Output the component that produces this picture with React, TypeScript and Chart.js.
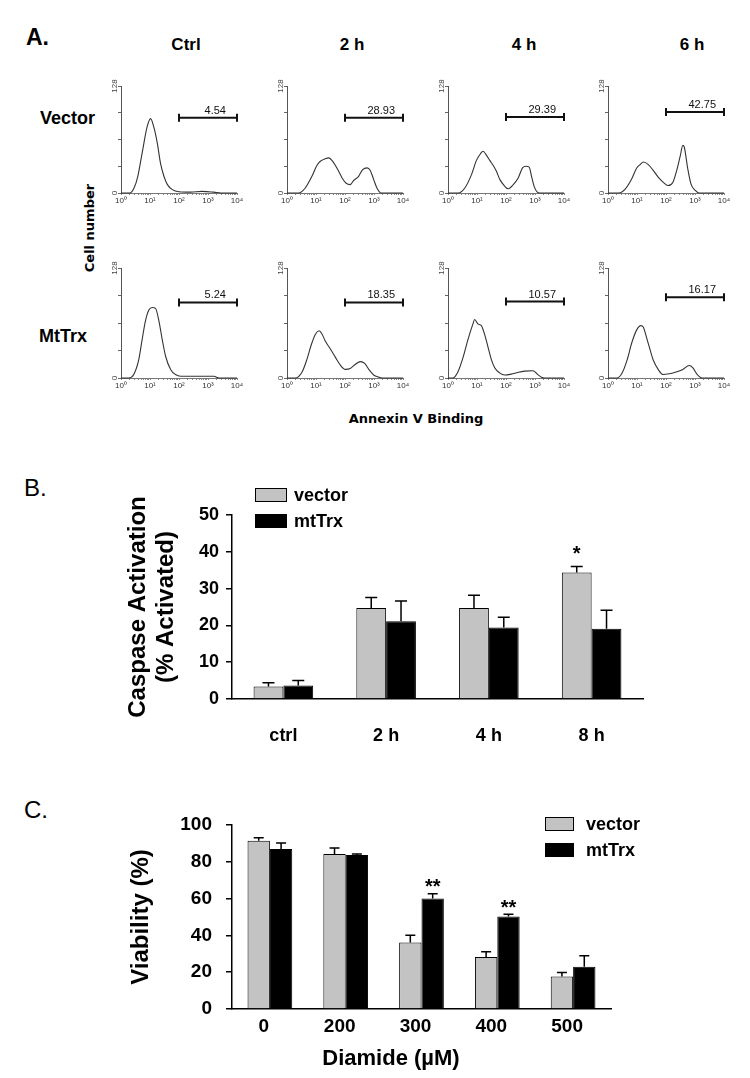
import React, { useEffect, useRef } from 'react';
import { Chart, registerables } from 'chart.js';

Chart.register(...registerables);

// ---------------- Panel A: Annexin V histograms ([log10 decade, cell count]) ----------------
const columnHeaders = ['Ctrl', '2 h', '4 h', '6 h'];
const rowLabels = ['Vector', 'MtTrx'];
const decadeLabels = ['10⁰', '10¹', '10²', '10³', '10⁴'];
const histYMax = 128;
const histYTicks = [0, 32, 64, 96, 128];

const vectorCtrl = [[0, 0], [0.3, 0], [0.45, 6], [0.58, 20], [0.73, 48], [0.9, 79], [1.02, 89], [1.13, 79], [1.25, 60], [1.36, 36], [1.48, 20], [1.6, 10], [1.77, 4], [2.0, 1.5], [2.4, 1], [2.8, 2], [3.2, 1], [3.45, 0], [4, 0]];
const vector2h = [[0, 0], [0.4, 0], [0.63, 6], [0.86, 20], [1.03, 33], [1.15, 38], [1.32, 41], [1.44, 42], [1.55, 39], [1.67, 33], [1.78, 26], [1.9, 18], [2.03, 12], [2.18, 10], [2.3, 15], [2.47, 20], [2.61, 28], [2.76, 30], [2.87, 27], [2.99, 16], [3.1, 6], [3.25, 0], [4, 0]];
const vector4h = [[0, 0], [0.35, 0], [0.58, 6], [0.81, 22], [0.98, 39], [1.12, 47], [1.21, 50], [1.33, 45], [1.44, 39], [1.56, 33], [1.67, 26], [1.79, 16], [1.96, 8], [2.07, 5], [2.25, 10], [2.42, 18], [2.57, 30], [2.68, 32], [2.8, 31], [2.88, 20], [2.97, 8], [3.08, 1], [3.17, 0], [4, 0]];
const vector6h = [[0, 0], [0.37, 0], [0.6, 5], [0.82, 17], [0.99, 30], [1.11, 34], [1.22, 37], [1.39, 34], [1.56, 27], [1.73, 19], [1.9, 13], [2.07, 9], [2.24, 13], [2.37, 27], [2.49, 44], [2.58, 57], [2.63, 55], [2.75, 29], [2.86, 11], [3.01, 3], [3.14, 0], [4, 0]];
const mtTrxCtrl = [[0, 0], [0.27, 0], [0.44, 4], [0.61, 21], [0.73, 45], [0.84, 66], [0.96, 79], [1.08, 82], [1.19, 81], [1.31, 66], [1.42, 45], [1.54, 25], [1.71, 10], [1.88, 4], [2.06, 2], [2.4, 2], [2.75, 2], [3.2, 2], [3.39, 0], [4, 0]];
const mtTrx2h = [[0, 0], [0.29, 0], [0.52, 7], [0.69, 22], [0.84, 39], [0.98, 51], [1.11, 55], [1.21, 51], [1.32, 43], [1.49, 34], [1.67, 24], [1.84, 15], [2.01, 10], [2.18, 11], [2.36, 16], [2.53, 19], [2.68, 17], [2.82, 10], [2.99, 3.5], [3.16, 1], [3.28, 0], [4, 0]];
const mtTrx4h = [[0, 0], [0.17, 0], [0.34, 7], [0.52, 24], [0.69, 45], [0.86, 63], [0.92, 68], [1.03, 63], [1.15, 61], [1.26, 51], [1.38, 36], [1.49, 22], [1.61, 12], [1.78, 6], [1.95, 3.5], [2.18, 4.5], [2.41, 6.5], [2.64, 8], [2.93, 8.5], [3.08, 4.5], [3.22, 1], [3.33, 0], [4, 0]];
const mtTrx6h = [[0, 0], [0.32, 0], [0.49, 6], [0.66, 21], [0.82, 41], [0.99, 56], [1.13, 61], [1.22, 59], [1.33, 47], [1.45, 33], [1.56, 21], [1.73, 10], [1.9, 4], [2.12, 5], [2.35, 7], [2.58, 10], [2.8, 14.5], [2.92, 12], [3.08, 4], [3.25, 0], [4, 0]];

const gateRange = [100, 10000];
const vectorGatePct = ['4.54', '28.93', '29.39', '42.75'];
const mtTrxGatePct = ['5.24', '18.35', '10.57', '16.17'];
const vectorGateLevel = [90, 90, 91, 97];
const mtTrxGateLevel = [88, 88, 89, 94];

// ---------------- Panel B: caspase activation ----------------
const caspaseCategories = ['ctrl', '2 h', '4 h', '8 h'];
const caspaseVector = [3.4, 24.7, 24.7, 34.4];
const caspaseVectorErr = [1.0, 2.9, 3.5, 1.6];
const caspaseMtTrx = [3.7, 21.1, 19.4, 19.1];
const caspaseMtTrxErr = [1.3, 5.5, 2.8, 5.0];
const caspaseTicks = { min: 0, max: 50, step: 10 };

// ---------------- Panel C: viability ----------------
const diamideCategories = ['0', '200', '300', '400', '500'];
const viabilityVector = [91.5, 84.3, 36.2, 28.2, 17.7];
const viabilityVectorErr = [1.6, 3.2, 3.9, 2.9, 2.2];
const viabilityMtTrx = [87.0, 83.7, 60.0, 50.3, 23.0];
const viabilityMtTrxErr = [3.2, 0.6, 2.7, 1.2, 5.9];
const viabilityTicks = { min: 0, max: 100, step: 20 };

const seriesNames = ['vector', 'mtTrx'];

// ---------------- layout ----------------
const SANS = '"Liberation Sans", Arial, Helvetica, sans-serif';
const histLefts = [121, 287, 448, 608];
const histTops = [86, 268];
const histHeights = [107, 110];
const histWidth = 116;

const histMinorTicks: number[] = [];
for (let e = 0; e < 4; e++) for (let m = 1; m < 10; m++) histMinorTicks.push(m * Math.pow(10, e));
histMinorTicks.push(10000);

const histDecor = {
  id: 'histDecor',
  afterDraw(chart: any, _a: any, opts: any) {
    const { ctx } = chart;
    const x = chart.scales.x;
    const y = chart.scales.y;
    ctx.save();
    ctx.fillStyle = '#111';
    ctx.font = `11px ${SANS}`;
    ctx.textAlign = 'center';
    ctx.textBaseline = 'middle';
    ctx.fillText(opts.label, x.getPixelForValue(Math.pow(10, 3.25)), y.getPixelForValue(opts.level) - 7);
    ctx.font = `8px ${SANS}`;
    ctx.fillStyle = '#444';
    [0, histYMax].forEach((v) => {
      ctx.save();
      ctx.translate(x.left - 6, y.getPixelForValue(v));
      ctx.rotate(-Math.PI / 2);
      ctx.fillText(String(v), 0, 0);
      ctx.restore();
    });
    ctx.restore();
  },
};

function Histogram(props: { points: number[][]; level: number; label: string; left: number; top: number; width: number; height: number }) {
  const ref = useRef<HTMLCanvasElement>(null);
  const padL = 30, padT = 20, padR = 22, xAxisH = 20, padB = 6;
  const cw = padL + props.width + padR;
  const ch = padT + props.height + xAxisH + padB;
  useEffect(() => {
    const chart = new Chart(ref.current as HTMLCanvasElement, {
      type: 'line',
      data: {
        datasets: [
          {
            data: props.points.map(([d, c]) => ({ x: Math.pow(10, d), y: c })),
            borderColor: '#333',
            borderWidth: 1.1,
            pointRadius: 0,
            cubicInterpolationMode: 'monotone',
            clip: 4,
          } as any,
          {
            data: [{ x: gateRange[0], y: props.level }, { x: gateRange[1], y: props.level }],
            borderColor: '#111',
            borderWidth: 2,
            pointStyle: 'line',
            pointRotation: 90,
            pointRadius: 4,
            pointBorderWidth: 2,
            pointBorderColor: '#111',
            clip: false,
          } as any,
        ],
      },
      options: {
        responsive: false,
        animation: false,
        events: [],
        layout: { padding: { left: 0, top: padT, right: padR, bottom: padB } },
        plugins: { legend: { display: false }, tooltip: { enabled: false }, histDecor: { label: props.label, level: props.level } } as any,
        scales: {
          x: {
            type: 'logarithmic',
            min: 1,
            max: 10000,
            afterBuildTicks: (s: any) => { s.ticks = histMinorTicks.map((value) => ({ value })); },
            afterFit: (s: any) => { s.height = xAxisH; },
            ticks: {
              autoSkip: false,
              maxRotation: 0,
              minRotation: 0,
              padding: 1,
              color: '#333',
              font: { family: SANS, size: 8 },
              callback: (v: any) => {
                const e = Math.log10(Number(v));
                return Math.abs(e - Math.round(e)) < 1e-9 ? decadeLabels[Math.round(e)] : '';
              },
            },
            grid: { drawOnChartArea: false, drawTicks: true, tickLength: 2, color: '#888', lineWidth: 1 },
            border: { display: true, color: '#777', width: 1 },
          } as any,
          y: {
            min: 0,
            max: histYMax,
            afterBuildTicks: (s: any) => { s.ticks = histYTicks.map((value) => ({ value })); },
            afterFit: (s: any) => { s.width = padL; },
            ticks: { callback: () => '', padding: 0 },
            grid: { drawOnChartArea: false, drawTicks: true, tickLength: 3, color: '#666', lineWidth: 1 },
            border: { display: true, color: '#555', width: 1 },
          } as any,
        },
      },
      plugins: [histDecor],
    });
    return () => chart.destroy();
  }, []);
  return (
    <canvas
      ref={ref}
      width={cw}
      height={ch}
      style={{ position: 'absolute', left: props.left - padL, top: props.top - padT, width: cw, height: ch }}
    />
  );
}

// ---------------- bar panels ----------------
const barDecor = {
  id: 'barDecor',
  afterDatasetsDraw(chart: any, _a: any, opts: any) {
    const { ctx } = chart;
    const y = chart.scales.y;
    ctx.save();
    ctx.strokeStyle = '#000';
    ctx.lineWidth = 1.5;
    opts.errors.forEach((errs: number[], di: number) => {
      const meta = chart.getDatasetMeta(di);
      meta.data.forEach((bar: any, i: number) => {
        const v = chart.data.datasets[di].data[i];
        const base = y.getPixelForValue(v);
        const top = y.getPixelForValue(v + errs[i]);
        ctx.beginPath();
        ctx.moveTo(bar.x, base);
        ctx.lineTo(bar.x, top);
        ctx.moveTo(bar.x - opts.cap, top);
        ctx.lineTo(bar.x + opts.cap, top);
        ctx.stroke();
      });
    });
    ctx.fillStyle = '#000';
    ctx.font = `bold 20px ${SANS}`;
    ctx.textAlign = 'center';
    ctx.textBaseline = 'middle';
    opts.stars.forEach((s: any) => {
      const bar = chart.getDatasetMeta(s.ds).data[s.idx];
      const v = chart.data.datasets[s.ds].data[s.idx] + opts.errors[s.ds][s.idx];
      ctx.fillText(s.text, bar.x, y.getPixelForValue(v) - opts.starGap);
    });
    const lg = opts.legend;
    ctx.font = `bold ${lg.fontSize}px ${SANS}`;
    ctx.textAlign = 'left';
    chart.data.datasets.forEach((ds: any, i: number) => {
      const by = lg.y + i * lg.gap;
      ctx.fillStyle = ds.backgroundColor;
      ctx.fillRect(lg.x, by, lg.w, lg.h);
      ctx.lineWidth = 1;
      ctx.strokeStyle = '#000';
      ctx.strokeRect(lg.x + 0.5, by + 0.5, lg.w - 1, lg.h - 1);
      ctx.fillStyle = '#000';
      ctx.fillText(ds.label, lg.textX, by + lg.h / 2 + 1);
    });
    ctx.restore();
  },
};

function BarPanel({ cfg }: { cfg: any }) {
  const ref = useRef<HTMLCanvasElement>(null);
  useEffect(() => {
    const tickFont = { family: SANS, size: cfg.tickSize, weight: 'bold' as const };
    const chart = new Chart(ref.current as HTMLCanvasElement, {
      type: 'bar',
      data: {
        labels: cfg.categories,
        datasets: [
          { label: seriesNames[0], data: cfg.vector, backgroundColor: '#c3c3c3', borderColor: '#000', borderWidth: 1 },
          { label: seriesNames[1], data: cfg.mtTrx, backgroundColor: '#000', borderColor: '#000', borderWidth: 1 },
        ],
      },
      options: {
        responsive: false,
        animation: false,
        events: [],
        layout: { padding: cfg.padding },
        datasets: { bar: { categoryPercentage: cfg.catPct, barPercentage: 1 } },
        plugins: {
          legend: { display: false },
          tooltip: { enabled: false },
          barDecor: { errors: [cfg.vectorErr, cfg.mtTrxErr], cap: cfg.cap, stars: cfg.stars, starGap: cfg.starGap, legend: cfg.legend },
        } as any,
        scales: {
          x: {
            afterFit: (s: any) => { s.height = cfg.xAxisH; },
            grid: { display: false, drawTicks: false },
            border: { display: true, color: '#000', width: 1.5 },
            ticks: { font: tickFont, color: '#000', padding: cfg.xTickPad, maxRotation: 0, labelOffset: cfg.xLabelOffset },
          },
          y: {
            min: cfg.ticks.min,
            max: cfg.ticks.max,
            afterFit: (s: any) => { s.width = cfg.yAxisW; },
            ticks: { stepSize: cfg.ticks.step, font: tickFont, color: '#000', padding: cfg.yTickPad },
            grid: { drawOnChartArea: false, drawTicks: true, tickLength: 6, color: '#000', lineWidth: 1.5 },
            border: { display: true, color: '#000', width: 1.5 },
            title: {
              display: true,
              text: cfg.yTitle,
              color: '#000',
              font: { family: SANS, size: 24, weight: 'bold', lineHeight: 1.15 },
              padding: { top: 4, bottom: 4 },
            },
          },
        },
      },
      plugins: [barDecor],
    });
    return () => chart.destroy();
  }, []);
  return (
    <canvas
      ref={ref}
      width={cfg.w}
      height={cfg.h}
      style={{ position: 'absolute', left: cfg.left, top: cfg.top, width: cfg.w, height: cfg.h }}
    />
  );
}

const caspaseCfg = {
  left: 0, top: 480, w: 750, h: 290,
  padding: { left: 121, top: 35, right: 107, bottom: 21 },
  yAxisW: 111, xAxisH: 50, xTickPad: 26, yTickPad: 7, xLabelOffset: 0, tickSize: 18,
  categories: caspaseCategories, vector: caspaseVector, vectorErr: caspaseVectorErr, mtTrx: caspaseMtTrx, mtTrxErr: caspaseMtTrxErr,
  ticks: caspaseTicks, catPct: 0.58, cap: 6,
  yTitle: ['Caspase Activation', '(% Activated)'],
  stars: [{ ds: 0, idx: 3, text: '*' }], starGap: 12,
  legend: { x: 255, y: 8, w: 32, h: 14, gap: 26, textX: 294, fontSize: 18 },
};

const viabilityCfg = {
  left: 0, top: 760, w: 750, h: 318,
  padding: { left: 124, top: 65, right: 139, bottom: 29 },
  yAxisW: 108, xAxisH: 40, xTickPad: 6, yTickPad: 14, xLabelOffset: -6, tickSize: 19,
  categories: diamideCategories, vector: viabilityVector, vectorErr: viabilityVectorErr, mtTrx: viabilityMtTrx, mtTrxErr: viabilityMtTrxErr,
  ticks: viabilityTicks, catPct: 0.59, cap: 5,
  yTitle: 'Viability (%)',
  stars: [{ ds: 1, idx: 2, text: '**' }, { ds: 1, idx: 3, text: '**' }], starGap: 6,
  legend: { x: 545, y: 57, w: 29, h: 14, gap: 26, textX: 586, fontSize: 18 },
};

function Txt(props: { x: number; y: number; text: string; font: string; rotate?: boolean; anchor?: 'left' | 'center' }) {
  const tx = props.anchor === 'left' ? '0' : '-50%';
  return (
    <div
      style={{
        position: 'absolute',
        left: props.x,
        top: props.y,
        transform: `translate(${tx}, -50%)${props.rotate ? ' rotate(-90deg)' : ''}`,
        whiteSpace: 'nowrap',
        font: props.font,
        lineHeight: 1,
        color: '#000',
      }}
    >
      {props.text}
    </div>
  );
}

export default function App() {
  const rows = [
    { series: [vectorCtrl, vector2h, vector4h, vector6h], pct: vectorGatePct, level: vectorGateLevel },
    { series: [mtTrxCtrl, mtTrx2h, mtTrx4h, mtTrx6h], pct: mtTrxGatePct, level: mtTrxGateLevel },
  ];
  const headerX = [186, 352, 524, 692];
  return (
    <div style={{ position: 'absolute', left: 0, top: 0, width: 750, height: 1078, background: '#fff', overflow: 'hidden' }}>
      <Txt x={26} y={37} text="A." font={`bold 23px ${SANS}`} anchor="left" />
      {columnHeaders.map((h, i) => (
        <Txt key={h} x={headerX[i]} y={44} text={h} font={`bold 17px ${SANS}`} />
      ))}
      <Txt x={40} y={118} text={rowLabels[0]} font={`bold 18px ${SANS}`} anchor="left" />
      <Txt x={39} y={336} text={rowLabels[1]} font={`bold 18px ${SANS}`} anchor="left" />
      <Txt x={89} y={228} text="Cell number" font={`bold 13px "DejaVu Sans", sans-serif`} rotate />
      <Txt x={416} y={418} text="Annexin V Binding" font={`bold 13px "DejaVu Sans", sans-serif`} />
      {rows.map((r, ri) =>
        r.series.map((pts, ci) => (
          <Histogram
            key={`${ri}-${ci}`}
            points={pts}
            level={r.level[ci]}
            label={r.pct[ci]}
            left={histLefts[ci]}
            top={histTops[ri]}
            width={histWidth}
            height={histHeights[ri]}
          />
        ))
      )}
      <Txt x={24} y={488} text="B." font={`24px ${SANS}`} anchor="left" />
      <BarPanel cfg={caspaseCfg} />
      <Txt x={24} y={810} text="C." font={`24px ${SANS}`} anchor="left" />
      <BarPanel cfg={viabilityCfg} />
      <Txt x={391} y={1058} text="Diamide (µM)" font={`bold 22px ${SANS}`} />
    </div>
  );
}
